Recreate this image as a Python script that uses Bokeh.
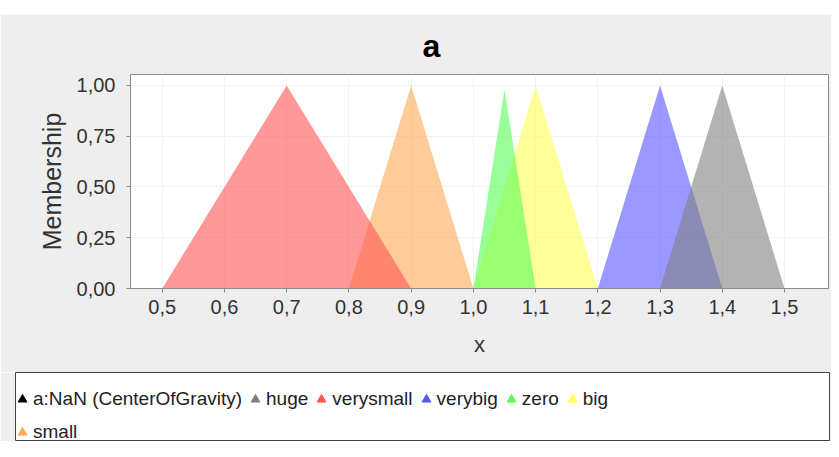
from bokeh.plotting import figure
from bokeh.models import Legend, LegendItem, FixedTicker, Range1d, ColumnDataSource, Spacer
from bokeh.layouts import column
from bokeh.embed import file_html
from bokeh.resources import INLINE

# ---- data (membership functions: triangle vertices) ----
huge_x = [1.3, 1.4, 1.5]
huge_y = [0.0, 1.0, 0.0]
verysmall_x = [0.5, 0.7, 0.9]
verysmall_y = [0.0, 1.0, 0.0]
verybig_x = [1.2, 1.3, 1.4]
verybig_y = [0.0, 1.0, 0.0]
zero_x = [1.0, 1.05, 1.1]
zero_y = [0.0, 0.98, 0.0]
big_x = [1.0, 1.1, 1.2]
big_y = [0.0, 1.0, 0.0]
small_x = [0.8, 0.9, 1.0]
small_y = [0.0, 1.0, 0.0]

legend_labels = ["a:NaN (CenterOfGravity)", "huge", "verysmall", "verybig", "zero", "big", "small"]
x_ticks = [0.5, 0.6, 0.7, 0.8, 0.9, 1.0, 1.1, 1.2, 1.3, 1.4, 1.5]
x_tick_labels = ["0,5", "0,6", "0,7", "0,8", "0,9", "1,0", "1,1", "1,2", "1,3", "1,4", "1,5"]
y_ticks = [0.0, 0.25, 0.5, 0.75, 1.0]
y_tick_labels = ["0,00", "0,25", "0,50", "0,75", "1,00"]

colors = {
    "a:NaN (CenterOfGravity)": "#000000",
    "huge": "#808080",
    "verysmall": "#ff5555",
    "verybig": "#5555ff",
    "zero": "#55ff55",
    "big": "#ffff55",
    "small": "#ffaa55",
}

FONT = "Liberation Sans"
PANEL = "#eeeeee"

# ---- main chart ----
p = figure(width=831, height=358, frame_height=214,
           x_range=Range1d(0.449, 1.5707), y_range=Range1d(0, 1.054),
           output_backend="svg", toolbar_location=None,
           min_border_left=130, min_border_right=3, min_border_top=60, min_border_bottom=84,
           background_fill_color="white", border_fill_color=PANEL,
           outline_line_color="#8a8a8a")

# draw order: last series first, first series on top
series = [("small", small_x, small_y), ("big", big_x, big_y), ("zero", zero_x, zero_y),
          ("verybig", verybig_x, verybig_y), ("verysmall", verysmall_x, verysmall_y),
          ("huge", huge_x, huge_y)]
for name, xs, ys in series:
    src = ColumnDataSource(dict(x=xs, y=ys))
    p.patch(x="x", y="y", source=src, fill_color=colors[name], fill_alpha=0.6, line_color=None)

p.title.text = "a"
p.title.align = "left"
p.title.offset = 292
p.title.text_font = FONT
p.title.text_font_size = "32px"
p.title.text_font_style = "bold"
p.title.text_color = "#000000"
p.title.standoff = 22

p.xaxis.ticker = FixedTicker(ticks=x_ticks)
p.xaxis.major_label_overrides = dict(zip(x_ticks, x_tick_labels))
p.yaxis.ticker = FixedTicker(ticks=y_ticks)
p.yaxis.major_label_overrides = dict(zip(y_ticks, y_tick_labels))
p.xgrid.ticker = FixedTicker(ticks=x_ticks)
p.ygrid.ticker = FixedTicker(ticks=y_ticks)
p.grid.grid_line_color = "#f3f3f3"

p.xaxis.axis_label = "x"
p.yaxis.axis_label = "Membership"
for ax in (p.xaxis, p.yaxis):
    ax.axis_line_color = "#8a8a8a"
    ax.major_tick_line_color = "#8a8a8a"
    ax.minor_tick_line_color = None
    ax.major_tick_in = 0
    ax.major_tick_out = 4
    ax.major_label_text_font = FONT
    ax.major_label_text_font_size = "20px"
    ax.major_label_text_color = "#333333"
    ax.axis_label_text_font = FONT
    ax.axis_label_text_font_style = "normal"
    ax.axis_label_text_color = "#333333"
p.xaxis.axis_label_text_font_size = "22px"
p.yaxis.axis_label_text_font_size = "25px"
p.xaxis.major_label_standoff = 7
p.yaxis.major_label_standoff = 11
p.xaxis.axis_label_standoff = 15
p.yaxis.axis_label_standoff = 8

# ---- legend panel (separate root, white box) ----
lf = figure(width=831, height=69, x_range=Range1d(0, 1), y_range=Range1d(0, 1),
            output_backend="svg", toolbar_location=None,
            min_border_left=15, min_border_right=2, min_border_top=0, min_border_bottom=0,
            x_axis_location=None, y_axis_location=None,
            background_fill_color="white", border_fill_color=PANEL,
            outline_line_color="#444444")
lf.xgrid.visible = False
lf.ygrid.visible = False

nan = float("nan")
items = []
for lab in legend_labels:
    r = lf.scatter(x=[nan], y=[nan], marker="triangle", size=10,
                   fill_color=colors[lab], line_color=colors[lab])
    items.append(LegendItem(label=lab, renderers=[r]))

common = dict(orientation="horizontal", glyph_width=22, glyph_height=22, label_standoff=0,
              spacing=2, padding=0, margin=0, border_line_alpha=0, background_fill_alpha=0,
              label_text_font=FONT, label_text_font_size="19px", label_text_color="#222222",
              label_height=22)
leg1 = Legend(items=items[:6], location=(-4, 31), **common)
leg2 = Legend(items=items[6:], location=(-4, -2), **common)
lf.add_layout(leg1)
lf.add_layout(leg2)

top = column(Spacer(width=831, height=14), p)
open("out.html", "w").write(file_html([top, lf], INLINE))
